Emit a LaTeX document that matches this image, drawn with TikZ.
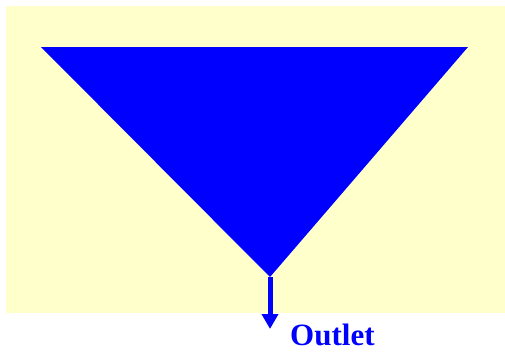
\documentclass[tikz,border=0pt]{standalone}
\usepackage{fontspec}
\setmainfont{Liberation Serif}
\usetikzlibrary{arrows.meta,positioning}
\definecolor{paper}{HTML}{FFFFCC}
\definecolor{fluid}{HTML}{0000FF}
\tikzset{
  tank/.style={fill=fluid, draw=none},
  outflow/.style={-{Triangle[width=16pt,length=15pt]}, line width=5pt, fluid},
  lbl/.style={font=\fontsize{31}{34}\selectfont\bfseries, text=fluid, inner sep=0pt}
}
\begin{document}
\begin{tikzpicture}[x=1pt, y=-1pt]
    \useasboundingbox (0,0) rectangle (505,356);
    \fill[paper] (6,6) rectangle (505,313);
    \coordinate (tl) at (41,47);
    \coordinate (tr) at (468,47);
    \coordinate (apex) at (270,277);
    \coordinate (tip) at (270,329);
    \fill[tank] (tl) -- (tr) -- (apex) -- cycle;
    \draw[outflow] (apex) -- (tip);
    \node[lbl, anchor=base west] (outlet) at (290,345) {Outlet};
  \end{tikzpicture}
\end{document}
